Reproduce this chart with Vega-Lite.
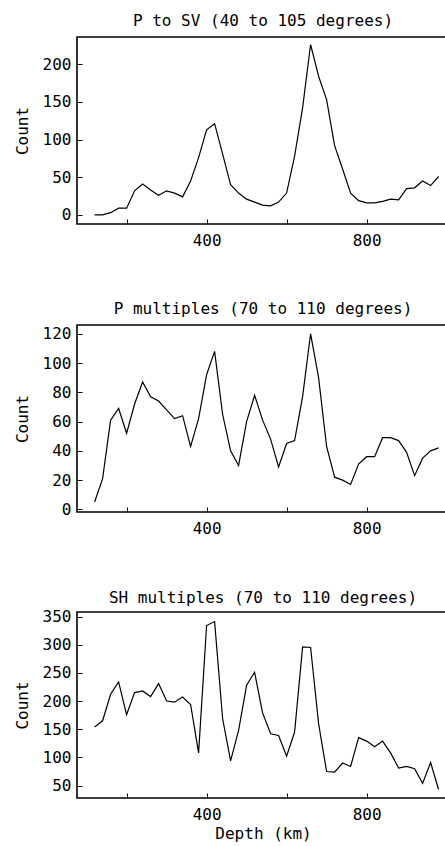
{
  "$schema": "https://vega.github.io/schema/vega-lite/v6.json",
  "padding": {"left": 13, "top": 12, "right": 0, "bottom": 0},
  "spacing": 51,
  "config": {
    "font": "DejaVu Sans Mono",
    "view": {"stroke": "black", "strokeWidth": 1.6},
    "axis": {"labelFont": "DejaVu Sans Mono", "labelFontSize": 16, "labelColor": "black", "titleFont": "DejaVu Sans Mono", "titleFontSize": 16, "titleFontWeight": "normal", "titleColor": "black", "grid": false, "domain": false, "tickColor": "black", "tickSize": -5},
    "axisX": {"labelPadding": 13, "titlePadding": 3},
    "axisY": {"labelPadding": 11, "titlePadding": 12},
    "title": {"font": "DejaVu Sans Mono", "fontSize": 16, "fontWeight": "normal", "color": "black", "offset": 8, "frame": "group", "anchor": "middle"},
    "line": {"color": "black", "strokeWidth": 1.2}
  },
  "vconcat": [
    {
      "title": "P to SV (40 to 105 degrees)",
      "width": 372, "height": 187,
      "data": {"values": [
        {"depth":120,"count":0},{"depth":140,"count":0},{"depth":160,"count":3},{"depth":180,"count":9},{"depth":200,"count":9},{"depth":220,"count":32},{"depth":240,"count":41},{"depth":260,"count":33},{"depth":280,"count":26},{"depth":300,"count":32},{"depth":320,"count":29},{"depth":340,"count":24},{"depth":360,"count":45},{"depth":380,"count":76},{"depth":400,"count":113},{"depth":420,"count":121},{"depth":440,"count":81},{"depth":460,"count":40},{"depth":480,"count":29},{"depth":500,"count":21},{"depth":520,"count":17},{"depth":540,"count":13},{"depth":560,"count":12},{"depth":580,"count":17},{"depth":600,"count":29},{"depth":620,"count":78},{"depth":640,"count":142},{"depth":660,"count":226},{"depth":680,"count":184},{"depth":700,"count":153},{"depth":720,"count":92},{"depth":740,"count":61},{"depth":760,"count":29},{"depth":780,"count":19},{"depth":800,"count":16},{"depth":820,"count":16},{"depth":840,"count":18},{"depth":860,"count":21},{"depth":880,"count":20},{"depth":900,"count":35},{"depth":920,"count":36},{"depth":940,"count":45},{"depth":960,"count":39},{"depth":980,"count":51}
      ]},
      "mark": {"type": "line"},
      "encoding": {
        "x": {"field": "depth", "type": "quantitative", "scale": {"domain": [76, 1006], "nice": false, "zero": false}, "axis": {"values": [200, 400, 600, 800], "labelExpr": "datum.value == 400 || datum.value == 800 ? datum.label : ''", "title": null}},
        "y": {"field": "count", "type": "quantitative", "scale": {"domain": [-12, 236], "nice": false, "zero": false}, "axis": {"values": [0, 50, 100, 150, 200], "title": "Count"}}
      }
    },
    {
      "title": "P multiples (70 to 110 degrees)",
      "width": 372, "height": 187,
      "data": {"values": [
        {"depth":120,"count":5},{"depth":140,"count":21},{"depth":160,"count":61},{"depth":180,"count":69},{"depth":200,"count":52},{"depth":220,"count":72},{"depth":240,"count":87},{"depth":260,"count":77},{"depth":280,"count":74},{"depth":300,"count":68},{"depth":320,"count":62},{"depth":340,"count":64},{"depth":360,"count":43},{"depth":380,"count":62},{"depth":400,"count":92},{"depth":420,"count":108},{"depth":440,"count":65},{"depth":460,"count":40},{"depth":480,"count":30},{"depth":500,"count":60},{"depth":520,"count":78},{"depth":540,"count":61},{"depth":560,"count":48},{"depth":580,"count":29},{"depth":600,"count":45},{"depth":620,"count":47},{"depth":640,"count":77},{"depth":660,"count":120},{"depth":680,"count":90},{"depth":700,"count":43},{"depth":720,"count":22},{"depth":740,"count":20},{"depth":760,"count":17},{"depth":780,"count":31},{"depth":800,"count":36},{"depth":820,"count":36},{"depth":840,"count":49},{"depth":860,"count":49},{"depth":880,"count":47},{"depth":900,"count":39},{"depth":920,"count":23},{"depth":940,"count":35},{"depth":960,"count":40},{"depth":980,"count":42}
      ]},
      "mark": {"type": "line"},
      "encoding": {
        "x": {"field": "depth", "type": "quantitative", "scale": {"domain": [76, 1006], "nice": false, "zero": false}, "axis": {"values": [200, 400, 600, 800], "labelExpr": "datum.value == 400 || datum.value == 800 ? datum.label : ''", "title": null}},
        "y": {"field": "count", "type": "quantitative", "scale": {"domain": [-1.8, 126], "nice": false, "zero": false}, "axis": {"values": [0, 20, 40, 60, 80, 100, 120], "title": "Count"}}
      }
    },
    {
      "title": {"text": "SH multiples (70 to 110 degrees)", "offset": 3},
      "width": 372, "height": 186,
      "data": {"values": [
        {"depth":120,"count":154},{"depth":140,"count":165},{"depth":160,"count":212},{"depth":180,"count":234},{"depth":200,"count":176},{"depth":220,"count":215},{"depth":240,"count":218},{"depth":260,"count":208},{"depth":280,"count":231},{"depth":300,"count":200},{"depth":320,"count":198},{"depth":340,"count":207},{"depth":360,"count":194},{"depth":380,"count":108},{"depth":400,"count":334},{"depth":420,"count":341},{"depth":440,"count":169},{"depth":460,"count":94},{"depth":480,"count":148},{"depth":500,"count":228},{"depth":520,"count":251},{"depth":540,"count":179},{"depth":560,"count":142},{"depth":580,"count":139},{"depth":600,"count":102},{"depth":620,"count":145},{"depth":640,"count":296},{"depth":660,"count":295},{"depth":680,"count":160},{"depth":700,"count":75},{"depth":720,"count":74},{"depth":740,"count":90},{"depth":760,"count":84},{"depth":780,"count":135},{"depth":800,"count":129},{"depth":820,"count":119},{"depth":840,"count":129},{"depth":860,"count":108},{"depth":880,"count":81},{"depth":900,"count":84},{"depth":920,"count":80},{"depth":940,"count":54},{"depth":960,"count":91},{"depth":980,"count":43}
      ]},
      "mark": {"type": "line"},
      "encoding": {
        "x": {"field": "depth", "type": "quantitative", "scale": {"domain": [76, 1006], "nice": false, "zero": false}, "axis": {"values": [200, 400, 600, 800], "labelExpr": "datum.value == 400 || datum.value == 800 ? datum.label : ''", "title": "Depth (km)"}},
        "y": {"field": "count", "type": "quantitative", "scale": {"domain": [28, 358], "nice": false, "zero": false}, "axis": {"values": [50, 100, 150, 200, 250, 300, 350], "title": "Count"}}
      }
    }
  ]
}
